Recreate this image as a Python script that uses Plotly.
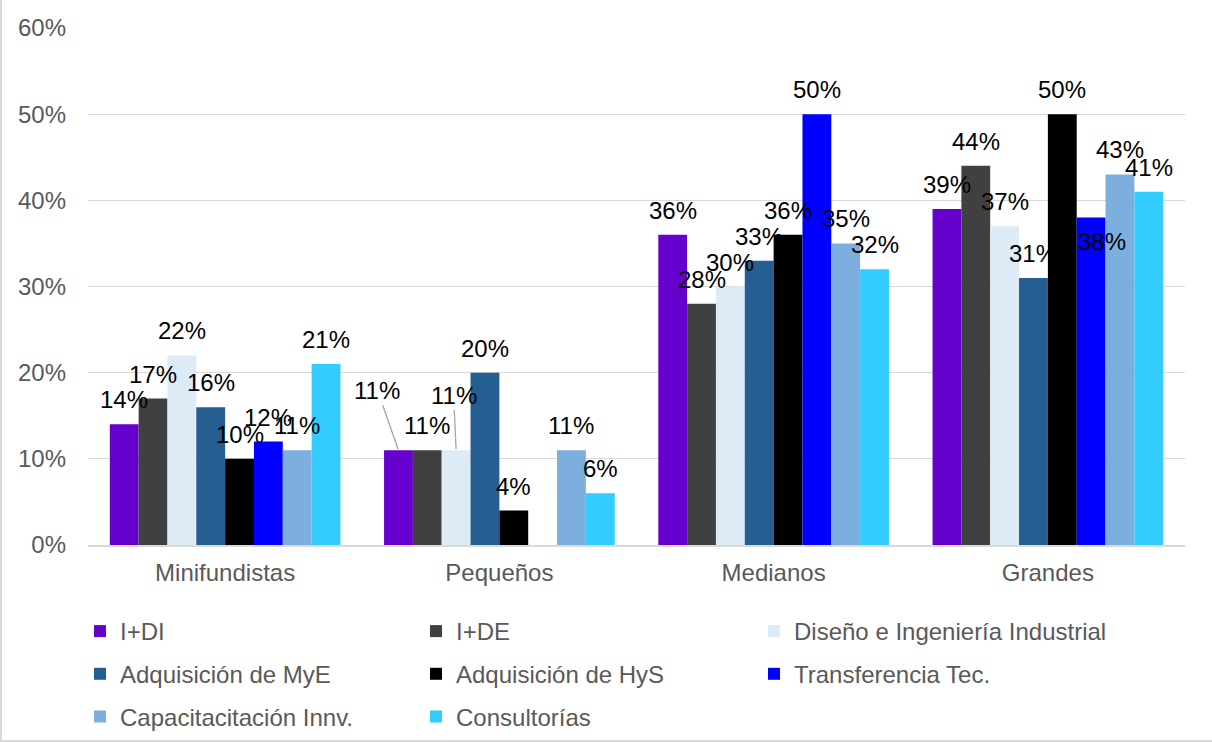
import plotly.graph_objects as go

# Farm size groups on the x axis
categories = ["Minifundistas", "Pequeños", "Medianos", "Grandes"]

# Share of farms carrying out each innovation activity (fraction, per size group)
series_names = [
    "I+DI",
    "I+DE",
    "Diseño e Ingeniería Industrial",
    "Adquisición de MyE",
    "Adquisición de HyS",
    "Transferencia Tec.",
    "Capacitacitación Innv.",
    "Consultorías",
]
i_di = [0.14, 0.11, 0.36, 0.39]
i_de = [0.17, 0.11, 0.28, 0.44]
diseno = [0.22, 0.11, 0.30, 0.37]
adq_mye = [0.16, 0.20, 0.33, 0.31]
adq_hys = [0.10, 0.04, 0.36, 0.50]
transferencia = [0.12, None, 0.50, 0.38]
capacitacion = [0.11, 0.11, 0.35, 0.43]
consultorias = [0.21, 0.06, 0.32, 0.41]

series_values = [i_di, i_de, diseno, adq_mye, adq_hys, transferencia, capacitacion, consultorias]

colors = ["#6600CC", "#404040", "#DDEBF7", "#255E91", "#000000", "#0000FF", "#7CAFDD", "#33CCFF"]

FONT = "Liberation Sans, Arial, sans-serif"
GREY_TEXT = "#595959"
GRID = "#D9D9D9"
BARGAP = 0.159

# Plot area in pixels (used for paper-coordinate decorations)
W, H = 1212, 742
L, R, T, B = 88, 27, 28, 197
PW, PH = W - L - R, H - T - B

def px_x(x):
    return (x - L) / PW

def px_y(y):
    return (H - B - y) / PH

# Legend laid out in three columns, entries filled row by row
legend_cols = ["legend", "legend2", "legend3"]
legend_col_left = [80, 416, 754]

fig = go.Figure()
for k, (name, vals, col) in enumerate(zip(series_names, series_values, colors)):
    fig.add_trace(
        go.Bar(
            x=categories,
            y=vals,
            name=name,
            marker=dict(color=col, line=dict(width=0)),
            legend=legend_cols[k % 3],
            legendgroup=f"g{k}",
            hovertemplate="%{x}<br>" + name + ": %{y:.0%}<extra></extra>",
        )
    )

# Data labels: placed above each bar, a few moved aside with leader lines
n_series = len(series_names)
slot = (1 - BARGAP) / n_series
moved = {
    (1, 0): dict(ax=-21, ay=-60),
    (1, 2): dict(ax=-2.5, ay=-55),
}
inside = {(3, 5): dict(xshift=11, yshift=-24)}

annotations = []
for s, vals in enumerate(series_values):
    for c, v in enumerate(vals):
        if v is None:
            continue
        xc = c - (1 - BARGAP) / 2 + slot * (s + 0.5)
        base = dict(
            x=xc, y=v, xref="x", yref="y",
            text=f"{round(v * 100):d}%",
            font=dict(family=FONT, size=24, color="#000000"),
        )
        if (c, s) in moved:
            base.update(
                showarrow=True, arrowhead=0, arrowwidth=1.3, arrowcolor="#A6A6A6",
                standoff=1, startstandoff=0, **moved[(c, s)],
            )
        elif (c, s) in inside:
            base.update(showarrow=False, yanchor="middle", **inside[(c, s)])
        else:
            base.update(showarrow=False, yanchor="middle", yshift=24.5)
        annotations.append(base)

legend_common = dict(
    orientation="v",
    tracegroupgap=8.5,
    font=dict(family=FONT, size=24, color=GREY_TEXT),
    bgcolor="rgba(0,0,0,0)",
    xanchor="left",
    yanchor="top",
    y=px_y(609),
    itemclick=False,
    itemdoubleclick=False,
)

fig.update_layout(
    width=W,
    height=H,
    margin=dict(l=L, r=R, t=T, b=B, autoexpand=False),
    paper_bgcolor="white",
    plot_bgcolor="white",
    barmode="group",
    bargap=BARGAP,
    bargroupgap=0,
    font=dict(family=FONT, size=24, color=GREY_TEXT),
    xaxis=dict(
        type="category",
        showgrid=False,
        showline=True,
        linecolor=GRID,
        linewidth=1.5,
        ticks="",
        ticklabelstandoff=5,
        tickfont=dict(family=FONT, size=24, color=GREY_TEXT),
    ),
    yaxis=dict(
        range=[0, 0.6],
        dtick=0.1,
        tickformat=".0%",
        showgrid=True,
        gridcolor=GRID,
        gridwidth=1.3,
        zeroline=False,
        showline=False,
        ticks="",
        ticklabelstandoff=21,
        tickfont=dict(family=FONT, size=24, color=GREY_TEXT),
    ),
    showlegend=True,
    legend=dict(legend_common, x=px_x(legend_col_left[0])),
    legend2=dict(legend_common, x=px_x(legend_col_left[1])),
    legend3=dict(legend_common, x=px_x(legend_col_left[2])),
    annotations=annotations,
    shapes=[
        dict(type="line", xref="paper", yref="paper",
             x0=px_x(1), x1=px_x(1), y0=px_y(0), y1=px_y(742),
             line=dict(color=GRID, width=2)),
        dict(type="line", xref="paper", yref="paper",
             x0=px_x(0), x1=px_x(1212), y0=px_y(741), y1=px_y(741),
             line=dict(color=GRID, width=2)),
    ],
)

fig.write_html("out.html")
